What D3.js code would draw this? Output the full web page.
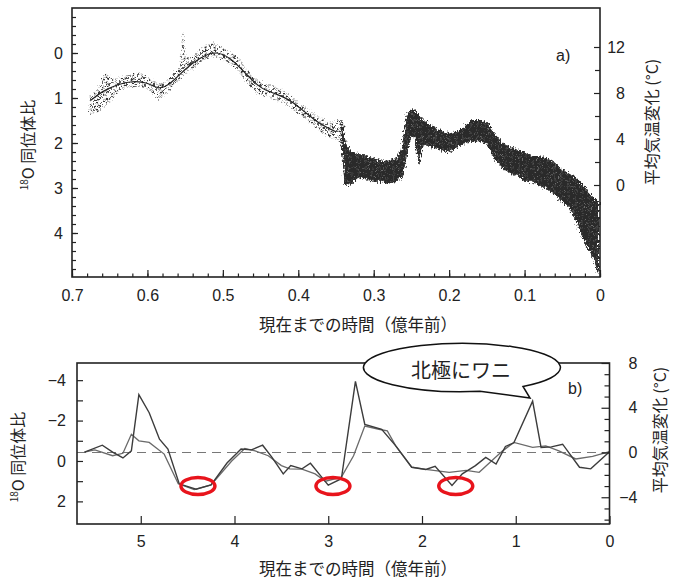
<!DOCTYPE html>
<html><head><meta charset="utf-8">
<script src="https://cdn.jsdelivr.net/npm/d3@7"></script>
<style>
body{margin:0;background:#fff}
text{font-family:"Liberation Sans",Arial,"Noto Sans CJK JP",sans-serif;fill:#222}
.cjk{font-family:"Noto Sans CJK JP","Liberation Sans",sans-serif}
</style>
</head><body>
<svg id="c" width="680" height="580"></svg>
<script>
// ---------- data: panel a ----------
const topAge  = [0.676,0.665,0.655,0.645,0.635,0.625,0.615,0.605,0.595,0.585,0.575,0.565,0.556,0.553,0.550,0.54,0.53,0.52,0.51,0.50,0.49,0.48,0.47,0.46,0.45,0.44,0.43,0.42,0.41,0.40,0.39,0.38,0.37,0.36,0.35,0.342,0.338,0.33,0.32,0.31,0.30,0.29,0.28,0.27,0.262,0.256,0.25,0.245,0.24,0.235,0.23,0.22,0.21,0.20,0.19,0.18,0.17,0.16,0.15,0.14,0.13,0.12,0.11,0.10,0.09,0.08,0.07,0.06,0.05,0.04,0.03,0.02,0.01,0.002];
const topHigh = [0.95,0.8,0.45,0.6,0.55,0.5,0.45,0.5,0.6,0.7,0.65,0.45,0.3,-0.45,0.1,0.1,-0.1,-0.2,-0.2,-0.1,0.0,0.1,0.35,0.55,0.65,0.7,0.75,0.85,0.95,1.1,1.2,1.35,1.45,1.55,1.5,1.5,2.0,2.2,2.25,2.3,2.35,2.4,2.4,2.35,2.1,1.4,1.25,1.3,1.4,1.5,1.55,1.65,1.75,1.8,1.75,1.65,1.5,1.5,1.55,1.8,2.0,2.1,2.15,2.2,2.3,2.3,2.35,2.45,2.6,2.7,2.8,3.0,3.2,3.3];
const topLow  = [1.35,1.3,1.15,0.95,0.8,0.75,0.72,0.75,0.85,1.05,0.9,0.7,0.55,0.45,0.45,0.35,0.2,0.1,0.05,0.15,0.25,0.35,0.6,0.8,0.95,0.95,1.05,1.1,1.2,1.35,1.45,1.6,1.75,1.85,1.9,2.0,2.95,2.9,2.75,2.8,2.85,2.85,2.9,2.85,2.75,2.2,1.8,1.9,2.45,2.0,2.05,2.1,2.15,2.2,2.1,2.0,1.95,1.95,2.0,2.35,2.55,2.65,2.7,2.85,2.85,2.95,3.0,3.15,3.3,3.45,3.8,4.2,4.5,4.9];
const smoothAge = [0.675,0.66,0.64,0.62,0.60,0.585,0.57,0.55,0.53,0.51,0.49,0.47,0.45,0.43,0.41,0.39,0.37,0.35];
const smoothVal = [1.05,0.85,0.7,0.62,0.65,0.82,0.7,0.35,0.1,-0.05,0.1,0.45,0.8,0.9,1.05,1.33,1.6,1.75];
const topXTicks = [0.7,0.6,0.5,0.4,0.3,0.2,0.1,0];
const topXLabels = ["0.7","0.6","0.5","0.4","0.3","0.2","0.1","0"];
const topYTicks = [0,1,2,3,4];
const topTTicks = [0,4,8,12];

// ---------- data: panel b ----------
const bAgeA = [5.60,5.41,5.30,5.19,5.10,5.02,4.91,4.80,4.71,4.59,4.41,4.25,4.08,3.93,3.82,3.70,3.60,3.48,3.40,3.28,3.19,3.07,3.00,2.86,2.71,2.61,2.43,2.28,2.11,1.96,1.86,1.68,1.57,1.43,1.32,1.21,1.11,1.02,0.82,0.73,0.62,0.50,0.32,0.20,0.0];
const bValA = [-0.44,-0.78,-0.44,-0.15,-0.5,-3.28,-2.39,-1.08,-0.59,1.13,1.4,1.18,0.1,-0.59,-0.55,-0.78,-0.18,0.64,0.23,0.39,0.11,0.8,1.2,0.88,-3.94,-1.81,-1.57,-0.75,0.31,0.42,0.26,1.21,0.64,0.23,-0.18,0.15,-0.72,-0.9,-2.96,-0.67,-0.7,-0.83,0.31,0.39,-0.46];
const bAgeB = [5.60,5.49,5.30,5.19,5.10,5.02,4.91,4.75,4.60,4.43,4.25,4.03,3.89,3.78,3.64,3.50,3.41,3.28,3.14,3.03,2.86,2.73,2.61,2.46,2.37,2.28,2.11,1.96,1.71,1.53,1.39,1.14,1.02,0.82,0.68,0.54,0.36,0.18,0.0];
const bValB = [-0.44,-0.55,-0.26,-0.38,-1.32,-1.0,-0.92,-0.34,1.13,1.42,1.18,0.0,-0.62,-0.5,-0.26,0.23,0.39,0.4,0.64,1.0,0.8,-0.26,-1.73,-1.57,-1.49,-0.75,0.31,0.42,0.56,0.47,0.56,-0.5,-0.92,-0.67,-0.75,-0.5,-0.1,-0.23,-0.46];
const circleAge = [4.39,2.95,1.64];
const circleVal = [1.24,1.24,1.24];
const botXTicks = [5,4,3,2,1,0];
const botYTicks = [-4,-2,0,2];
const botTTicks = [8,4,0,-4];

const svg = d3.select("#c");
const defs = svg.append("defs");
function grain(id, freq, scale, seed){
  const f = defs.append("filter").attr("id",id).attr("x","-5%").attr("y","-10%").attr("width","110%").attr("height","120%");
  f.append("feTurbulence").attr("type","fractalNoise").attr("baseFrequency",freq).attr("numOctaves",2).attr("seed",seed).attr("result","n");
  f.append("feDisplacementMap").attr("in","SourceGraphic").attr("in2","n").attr("scale",scale).attr("xChannelSelector","R").attr("yChannelSelector","G");
}
grain("grainL","0.6",6,3);
grain("grainR","0.7 0.35",7,5);
// dotted pattern to mimic scattered samples
const pat = defs.append("pattern").attr("id","dots").attr("patternUnits","userSpaceOnUse").attr("width",9).attr("height",7);
[[1,1],[5,2.5],[3,5],[7.5,5.5],[8,1.5]].forEach(p=>pat.append("circle").attr("cx",p[0]).attr("cy",p[1]).attr("r",1.05).attr("fill","#333"));
const pat2 = defs.append("pattern").attr("id","speck").attr("patternUnits","userSpaceOnUse").attr("width",7).attr("height",6);
pat2.append("rect").attr("width",7).attr("height",6).attr("fill","#2a2a2a");
[[1,1],[4.5,3.5],[6,0.5],[2,4.8]].forEach(p=>pat2.append("circle").attr("cx",p[0]).attr("cy",p[1]).attr("r",0.6).attr("fill","#777"));

// ================= panel a =================
const xT = d3.scaleLinear().domain([0.7,0]).range([72,600]);
const yT = d3.scaleLinear().domain([-1,5]).range([8,278]);
const tT = d3.scaleLinear().domain([0,12]).range([185,47]);
const gA = svg.append("g");

const bandData = topAge.map((a,i)=>({a, h:topHigh[i], l:topLow[i]}));
const area = d3.area().x(d=>xT(d.a)).y0(d=>yT(d.l)).y1(d=>yT(d.h));
const leftPart = bandData.filter(d=>d.a>=0.342);
const rightPart = bandData.filter(d=>d.a<=0.342);
gA.append("path").datum(leftPart).attr("d",area).attr("fill","url(#dots)")
  .attr("stroke","#555").attr("stroke-width",0.6).attr("stroke-dasharray","1.5,2.5").attr("filter","url(#grainL)");
gA.append("path").datum(rightPart).attr("d",area).attr("fill","url(#speck)")
  .attr("stroke","#2a2a2a").attr("stroke-width",1).attr("filter","url(#grainR)");
gA.append("path").datum(smoothAge.map((a,i)=>[a,smoothVal[i]]))
  .attr("d",d3.line().x(d=>xT(d[0])).y(d=>yT(d[1])).curve(d3.curveBasis))
  .attr("fill","none").attr("stroke","#222").attr("stroke-width",1.2);

// axes a
gA.append("g").attr("transform","translate(0,277)")
  .call(d3.axisBottom(xT).tickValues(topXTicks).tickFormat((d,i)=>topXLabels[i]).tickSizeInner(-7).tickSizeOuter(0).tickPadding(13));
gA.append("g").attr("transform","translate(0,277)")
  .call(d3.axisBottom(xT).tickValues(d3.range(0,36).map(i=>i*0.02)).tickFormat("").tickSizeInner(-3.5).tickSizeOuter(0));
gA.append("g").attr("transform","translate(72,0)")
  .call(d3.axisLeft(yT).tickValues(topYTicks).tickFormat(d3.format("d")).tickSizeInner(-6).tickSizeOuter(0).tickPadding(9));
gA.append("g").attr("transform","translate(72,0)")
  .call(d3.axisLeft(yT).tickValues(d3.range(-4,25).map(i=>i*0.2)).tickFormat("").tickSizeInner(-4).tickSizeOuter(0));
const axR = gA.append("g").attr("transform","translate(600,0)")
  .call(d3.axisRight(tT).tickValues(topTTicks).tickFormat(d3.format("d")).tickSizeInner(-6).tickSizeOuter(0).tickPadding(7));
axR.selectAll("text").attr("text-anchor","end").attr("x",25);
gA.append("g").attr("transform","translate(600,0)")
  .call(d3.axisRight(tT).tickValues([2,6,10]).tickFormat("").tickSizeInner(-5).tickSizeOuter(0));
gA.append("rect").attr("x",72).attr("y",8).attr("width",528).attr("height",269)
  .attr("fill","none").attr("stroke","#222").attr("stroke-width",1.6);

// ================= panel b =================
const xB = d3.scaleLinear().domain([5.68,0]).range([77,609.5]);
const yB = d3.scaleLinear().domain([-4.85,3.12]).range([363,524]);
const tB = d3.scaleLinear().domain([8,-6.39]).range([363,524]);
const gB = svg.append("g");

gB.append("line").attr("x1",77).attr("x2",609.5).attr("y1",tB(0)).attr("y2",tB(0))
  .attr("stroke","#777").attr("stroke-width",1.2).attr("stroke-dasharray","9,6");
const lineB = d3.line().x(d=>xB(d[0])).y(d=>yB(d[1]));
gB.append("path").datum(bAgeB.map((a,i)=>[a,bValB[i]])).attr("d",lineB)
  .attr("fill","none").attr("stroke","#6a6a6a").attr("stroke-width",1.3);
gB.append("path").datum(bAgeA.map((a,i)=>[a,bValA[i]])).attr("d",lineB)
  .attr("fill","none").attr("stroke","#3c3c3c").attr("stroke-width",1.4);

gB.append("g").attr("transform","translate(0,524)")
  .call(d3.axisBottom(xB).tickValues(botXTicks).tickFormat(d3.format("d")).tickSizeInner(-8).tickSizeOuter(0).tickPadding(12));
gB.append("g").attr("transform","translate(77,0)")
  .call(d3.axisLeft(yB).tickValues(botYTicks).tickFormat(d3.format("d")).tickSizeInner(-6).tickSizeOuter(0).tickPadding(11));
gB.append("g").attr("transform","translate(77,0)")
  .call(d3.axisLeft(yB).tickValues([-3,-1,1]).tickFormat("").tickSizeInner(-6).tickSizeOuter(0));
const axRB = gB.append("g").attr("transform","translate(609.5,0)")
  .call(d3.axisRight(tB).tickValues(botTTicks).tickFormat(d3.format("d")).tickSizeInner(-8).tickSizeOuter(0).tickPadding(7));
axRB.selectAll("text").attr("text-anchor","end").attr("x",28);
gB.append("g").attr("transform","translate(609.5,0)")
  .call(d3.axisRight(tB).tickValues([7,6,5,3,2,1,-1,-2,-3,-5,-6]).tickFormat("").tickSizeInner(-5).tickSizeOuter(0));
gB.append("rect").attr("x",77).attr("y",363).attr("width",532.5).attr("height",161)
  .attr("fill","none").attr("stroke","#222").attr("stroke-width",1.6);

// red circles
gB.selectAll("ellipse.mark").data(circleAge).enter().append("ellipse").attr("class","mark")
  .attr("cx",d=>xB(d)).attr("cy",(d,i)=>yB(circleVal[i])).attr("rx",17).attr("ry",8.5)
  .attr("fill","none").attr("stroke","#e8141c").attr("stroke-width",3.5);

// styling of axes
svg.selectAll(".domain").remove();
svg.selectAll(".tick line").attr("stroke","#222").attr("stroke-width",1.2);
svg.selectAll(".tick text").attr("font-size",16).attr("fill","#222")
  .style("font-family","'Liberation Sans',Arial,sans-serif");

// speech bubble
svg.append("path")
  .attr("d","M523,386.5 A98.5 24.2 0 1 0 480,391.3 L530,398 Z")
  .attr("fill","#fff").attr("stroke","#111").attr("stroke-width",1.5);
svg.append("text").attr("class","cjk").attr("x",461).attr("y",378).attr("text-anchor","middle")
  .attr("font-size",20).attr("fill","#111").text("北極にワニ");

// labels
svg.append("text").attr("x",556).attr("y",61).attr("font-size",16).text("a)");
svg.append("text").attr("x",568).attr("y",394).attr("font-size",16).text("b)");

function xTitle(y){
  svg.append("text").attr("class","cjk").attr("x",358).attr("y",y).attr("text-anchor","middle")
    .attr("font-size",16.5).text("現在までの時間（億年前）");
}
xTitle(331); xTitle(575);

function yTitleLeft(x,y){
  const t = svg.append("text").attr("class","cjk").attr("transform",`translate(${x},${y}) rotate(-90)`)
    .attr("text-anchor","middle").attr("font-size",16);
  t.append("tspan").attr("font-size",10).attr("dy",-6).text("18");
  t.append("tspan").attr("dy",6).text("O 同位体比");
}
yTitleLeft(34,145); yTitleLeft(24,457);

function yTitleRight(x,y){
  svg.append("text").attr("class","cjk").attr("transform",`translate(${x},${y}) rotate(-90)`)
    .attr("text-anchor","middle").attr("font-size",16).text("平均気温変化 (°C)");
}
yTitleRight(658,122); yTitleRight(666,430);
</script>
</body></html>
